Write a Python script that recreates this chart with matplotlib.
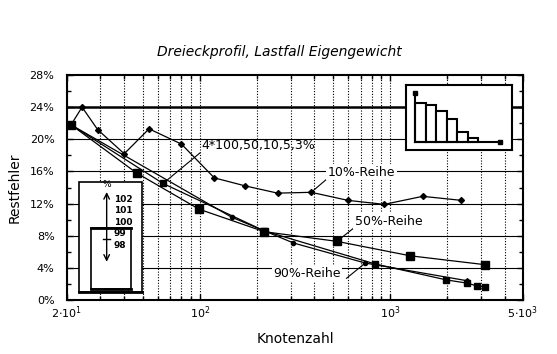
import matplotlib.pyplot as plt
from matplotlib.patches import Rectangle
from matplotlib.ticker import FixedLocator, NullFormatter

# 10%-Reihe
n_10 = [21, 24, 29, 40, 54, 80, 119, 173, 256, 385, 600, 931, 1484, 2370]
f_10 = [21.8, 24.0, 21.2, 18.2, 21.3, 19.4, 15.2, 14.2, 13.3, 13.4, 12.4, 11.9, 12.9, 12.4]
# 50%-Reihe
n_50 = [21, 46.5, 99, 218, 525, 1277, 3142]
f_50 = [21.8, 15.8, 11.3, 8.5, 7.3, 5.5, 4.4]
# 90%-Reihe
n_90 = [21, 147, 310, 740, 2540]
f_90 = [21.8, 10.3, 7.1, 4.6, 2.4]
# 4*100,50,10,5,3%
n_4x = [21, 64, 218, 830, 1977, 2540, 2864, 3170]
f_4x = [21.8, 14.5, 8.6, 4.5, 2.5, 2.1, 1.75, 1.6]

y_ticks = [0, 4, 8, 12, 16, 20, 24, 28]
x_ticks = [20, 100, 1000, 5000]
x_labels = [r'$2{\cdot}10^1$', r'$10^2$', r'$10^3$', r'$5{\cdot}10^3$']
x_minor = [30, 40, 50, 60, 70, 80, 90, 200, 300, 400, 500, 600, 700, 800, 900,
           2000, 3000, 4000]

# small histogram inset (bar heights as drawn)
hist_h = [39, 37, 31, 23, 10, 4]
# scale labels of the left inset
scale_labels = ['102', '101', '100', '99', '98']

plt.rcParams['font.family'] = ['DejaVu Sans']
fig = plt.figure(figsize=(5.57, 3.54), dpi=100)
ax = fig.add_axes([67/557, 54/354, 456/557, 225/354])

ax.set_xscale('log')
ax.set_xlim(20, 5000)
ax.set_ylim(0, 28)

# grid
for m in x_minor + x_ticks:
    ax.axvline(m, color='k', lw=0.8, ls=(0, (1, 1.5)), zorder=1)
for t in y_ticks[1:-1]:
    ax.axhline(t, color='k', lw=1.8 if t == 24 else 0.8, zorder=1)

ax.xaxis.set_major_locator(FixedLocator(x_ticks))
ax.set_xticklabels(x_labels, fontsize=8)
ax.xaxis.set_minor_locator(FixedLocator(x_minor))
ax.xaxis.set_minor_formatter(NullFormatter())
ax.set_yticks(y_ticks)
ax.set_yticklabels([f'{t}%' for t in y_ticks], fontsize=8)
ax.set_yticks(range(2, 28, 4), minor=True)
ax.tick_params(which='both', direction='in', top=True, right=True, color='k')
ax.tick_params(which='major', length=4, width=1)
ax.tick_params(which='minor', length=3, width=1)
ax.tick_params(axis='x', which='major', pad=3)
ax.tick_params(axis='y', which='major', pad=9)
for s in ax.spines.values():
    s.set_linewidth(1.5)

# series
ax.plot(n_10, f_10, color='k', lw=0.9, marker='D', ms=3, zorder=4)
ax.plot(n_4x, f_4x, color='k', lw=0.9, marker='s', ms=4, zorder=4)
ax.plot(n_90, f_90, color='k', lw=0.9, marker='o', ms=3, zorder=4)
ax.plot(n_90[-1:], f_90[-1:], color='k', marker='^', ms=5, ls='none', zorder=5)
ax.plot(n_50, f_50, color='k', lw=0.9, marker='s', ms=6, zorder=4)

# labels with pointer lines
ax.plot([n_4x[1], 100], [f_4x[1], 18.3], color='k', lw=0.8, zorder=4)
ax.text(102, 19.2, '4*100,50,10,5,3%', fontsize=9, ha='left', va='center', zorder=6)
ax.plot([n_10[9], 462], [f_10[9], 15.0], color='k', lw=0.8, zorder=4)
ax.text(470, 15.9, '10%-Reihe', fontsize=9, ha='left', va='center', zorder=6,
        bbox=dict(fc='white', ec='none', pad=1))
ax.plot([n_50[4], 640], [f_50[4], 8.9], color='k', lw=0.8, zorder=4)
ax.text(650, 9.8, '50%-Reihe', fontsize=9, ha='left', va='center', zorder=6,
        bbox=dict(fc='white', ec='none', pad=1))
ax.plot([n_90[3], 590], [f_90[3], 2.7], color='k', lw=0.8, zorder=4)
ax.text(243, 3.3, '90%-Reihe', fontsize=9, ha='left', va='center', zorder=6,
        bbox=dict(fc='white', ec='none', pad=1))

ax.set_xlabel('Knotenzahl', fontsize=10, labelpad=8)
ax.set_ylabel('Restfehler', fontsize=10, labelpad=6)
fig.text(0.501, 0.853, 'Dreieckprofil, Lastfall Eigengewicht', fontsize=10,
         style='italic', ha='center', va='center')

# left inset (scale sketch)
T = ax.transAxes
ax.add_patch(Rectangle((0.027, 0.037), 0.138, 0.486, transform=T, fc='white',
                       ec='k', lw=1.2, zorder=7))
ax.plot([0.027, 0.165], [0.037, 0.037], transform=T, color='k', lw=2, zorder=8)
ax.add_patch(Rectangle((0.0526, 0.049), 0.087, 0.272, transform=T, fc='white',
                       ec='k', lw=1.2, zorder=8))
ax.plot([0.0526, 0.1397], [0.321, 0.321], transform=T, color='k', lw=2, zorder=9)
ax.plot([0.0526, 0.1397], [0.049, 0.049], transform=T, color='k', lw=2, zorder=9)
ax.annotate('', xy=(0.087, 0.48), xytext=(0.087, 0.17), xycoords=T,
            arrowprops=dict(arrowstyle='<->', color='k', lw=1, shrinkA=0, shrinkB=0),
            zorder=10)
ax.plot([0.079, 0.095], [0.27, 0.27], transform=T, color='k', lw=1, zorder=10)
ax.text(0.087, 0.515, '%', transform=T, fontsize=6.5, ha='center', va='center', zorder=10)
for i, lab in enumerate(scale_labels):
    ax.text(0.103, 0.448 - i * 0.051, lab, transform=T, fontsize=6.5, fontweight='bold',
            ha='left', va='center', zorder=10)

# upper right inset (histogram)
axh = fig.add_axes([406/557, 204/354, 106/557, 65/354])
axh.set_xlim(-9/10.5, 97/10.5)
axh.set_ylim(-8, 57)
axh.bar(range(len(hist_h)), hist_h, width=1, align='edge', fc='white', ec='k', lw=1.5)
axh.plot([0, 0], [0, 49], color='k', lw=1.5)
axh.plot([0], [49], marker='s', color='k', ms=3)
axh.plot([0, 8.1], [0, 0], color='k', lw=1.5)
axh.plot([8.1], [0], marker='s', color='k', ms=3)
axh.set_xticks([])
axh.set_yticks([])
for s in axh.spines.values():
    s.set_linewidth(1.5)

fig.savefig('out.png', dpi=100)
